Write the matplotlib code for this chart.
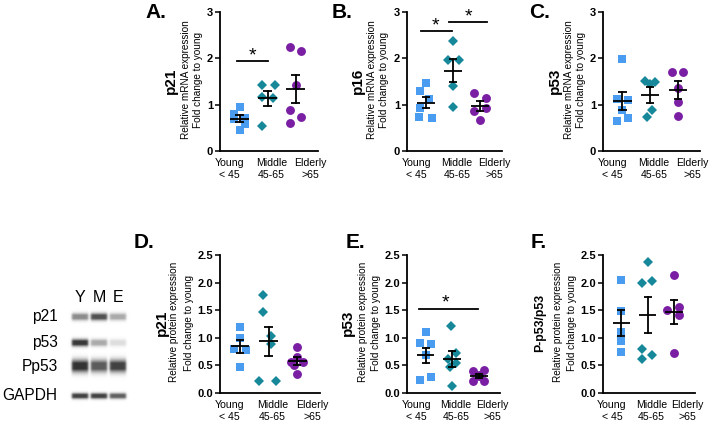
import numpy as np
import matplotlib
matplotlib.use("Agg")
import matplotlib.pyplot as plt

plt.rcParams['font.family'] = ['Liberation Sans', 'DejaVu Sans']

W, H = 711, 426

groups = ["Young\n< 45", "Middle\n45-65", "Elderly\n>65"]
colors = ["#4a9cf0", "#17889a", "#7a1fa3"]
markers = ["s", "D", "o"]

# ---- data ----
a_young = [0.95, 0.80, 0.72, 0.68, 0.58, 0.45]
a_middle = [1.43, 1.43, 1.16, 1.14, 0.55]
a_elderly = [2.24, 2.15, 1.43, 0.89, 0.73, 0.60]

b_young = [1.47, 1.30, 1.12, 0.92, 0.74, 0.72]
b_middle = [2.37, 1.97, 1.97, 1.40, 0.96]
b_elderly = [1.26, 1.14, 0.92, 0.86, 0.66]

c_young = [1.98, 1.12, 1.09, 0.89, 0.72, 0.64]
c_middle = [1.52, 1.45, 1.48, 0.88, 0.73]
c_elderly = [1.71, 1.71, 1.35, 1.06, 0.75]

d_young = [1.19, 0.99, 0.80, 0.78, 0.47]
d_middle = [1.78, 1.47, 1.04, 0.88, 0.22, 0.22]
d_elderly = [0.84, 0.65, 0.57, 0.56, 0.50, 0.34]

e_young = [1.10, 0.90, 0.88, 0.68, 0.29, 0.23]
e_middle = [1.21, 0.72, 0.62, 0.55, 0.48, 0.12]
e_elderly = [0.41, 0.39, 0.33, 0.30, 0.22, 0.21]

f_young = [2.05, 1.48, 1.10, 0.95, 0.75]
f_middle = [2.38, 1.99, 2.03, 0.79, 0.68, 0.61]
f_elderly = [2.14, 1.50, 1.56, 1.41, 0.73]

# horizontal scatter offsets (layout, not data)
a_jit = [[0, -0.2, 0.2, -0.2, 0.2, 0], [-0.2, 0.25, -0.2, 0.2, -0.2], [-0.21, 0.21, 0, -0.21, 0.21, -0.21]]
b_jit = [[0, -0.22, 0.1, -0.22, -0.25, 0.22], [0, -0.2, 0.2, 0, 0], [-0.24, 0.2, 0.2, -0.24, 0]]
c_jit = [[0, -0.2, 0.2, 0, 0.2, -0.2], [-0.2, 0, 0.18, 0.07, -0.12], [-0.21, 0.2, 0, 0, 0]]
d_jit = [[0, 0, -0.2, 0.2, 0], [-0.2, -0.2, 0.1, 0.1, -0.35, 0.25], [0, 0, -0.2, 0.2, -0.1, 0]]
e_jit = [[0, -0.2, 0.2, 0, 0.2, -0.2], [-0.05, 0.15, -0.15, 0.15, -0.1, 0], [0.2, -0.2, 0, 0, -0.2, 0.2]]
f_jit = [[0, 0, 0, 0, 0], [0, -0.2, 0.17, -0.2, 0.17, -0.2], [0, -0.25, 0.2, 0.2, 0]]

# category label positions (Prism spreads labels wider than the data columns)
label_pos = [-0.36, 1.14, 2.52]

# blot band darkness (rows: p21, p53, Pp53, GAPDH ; cols: Y, M, E)
blot_labels = ["p21", "p53", "Pp53", "GAPDH"]
blot_lanes = ["Y", "M", "E"]
blot_dark = [[0.45, 0.68, 0.33],
             [0.78, 0.33, 0.13],
             [0.80, 0.64, 0.74],
             [0.74, 0.74, 0.62]]

mrna = "Relative mRNA expression"
prot = "Relative protein expression"
fold = "Fold change to young"


def fig_axes(L, R, T, B):
    return fig.add_axes([L / W, 1 - B / H, (R - L) / W, (B - T) / H])


def ftext(x, y, s, **kw):
    fig.text(x / W, 1 - y / H, s, **kw)


fig = plt.figure(figsize=(W / 100, H / 100), dpi=100)


def panel(L, R, T, B, series, jits, ymax, yticks, fmt, letter, letter_xy,
          gene, gene_x, gene_size, ylab1, rel_x, fold_x, sigs):
    ax = fig_axes(L, R, T, B)
    for i, (vals, jit) in enumerate(zip(series, jits)):
        v = np.array(vals)
        x = i + np.array(jit)
        ms = 6.4 if markers[i] == "o" else (5.2 if markers[i] == "D" else 5.6)
        ax.plot(x, v, linestyle="none", marker=markers[i], color=colors[i],
                markersize=ms, markeredgewidth=0, zorder=2)
        m = v.mean()
        se = v.std(ddof=1) / np.sqrt(len(v))
        lw = 1.3
        ax.plot([i - 0.33, i + 0.33], [m, m], color="black", lw=lw, zorder=3, solid_capstyle="butt")
        ax.plot([i, i], [m - se, m + se], color="black", lw=lw, zorder=3)
        for yy in (m - se, m + se):
            ax.plot([i - 0.15, i + 0.15], [yy, yy], color="black", lw=lw, zorder=3, solid_capstyle="butt")
    ax.set_xlim(-0.7, 2.8)
    ax.set_ylim(0, ymax)
    ax.set_yticks(yticks)
    ax.set_yticklabels([fmt.format(t) for t in yticks], fontweight="bold", fontsize=8)
    ax.set_xticks(label_pos)
    ax.set_xticklabels(groups, fontsize=7.6, linespacing=1.2)
    ax.tick_params(axis="x", length=0, pad=5)
    ax.tick_params(axis="y", length=3.5, width=1.1, pad=1.5)
    for s in ("top", "right"):
        ax.spines[s].set_visible(False)
    for s in ("left", "bottom"):
        ax.spines[s].set_linewidth(1.3)
    ax.patch.set_alpha(0)
    for (x0, x1, yb, xs, ys) in sigs:
        ax.plot([x0, x1], [yb, yb], color="black", lw=1.3, clip_on=False)
        ax.text(xs, ys, "*", ha="center", va="center", fontsize=14, clip_on=False)
    cy = (T + B) / 2
    ftext(letter_xy[0], letter_xy[1], letter, fontsize=15, fontweight="bold", ha="left", va="center")
    ftext(gene_x, cy - 1, gene, fontsize=gene_size, fontweight="bold", rotation=90, ha="center", va="center")
    ftext(rel_x, cy - 2, ylab1, fontsize=7.2, rotation=90, ha="center", va="center")
    ftext(fold_x, cy - 1, fold, fontsize=7.2, rotation=90, ha="center", va="center")
    return ax


panel(220, 318, 12, 151, [a_young, a_middle, a_elderly], a_jit, 3, [0, 1, 2, 3], "{:.0f}",
      "A.", (145, 13), "p21", 171, 11, mrna, 186, 198,
      [(-0.1, 1.0, 1.94, 0.45, 2.05)])
panel(407, 502, 12, 151, [b_young, b_middle, b_elderly], b_jit, 3, [0, 1, 2, 3], "{:.0f}",
      "B.", (332, 13), "p16", 358, 11, mrna, 372, 384,
      [(-0.2, 0.96, 2.59, 0.36, 2.70), (0.86, 2.25, 2.78, 1.57, 2.89)])
panel(603, 700, 12, 151, [c_young, c_middle, c_elderly], c_jit, 3, [0, 1, 2, 3], "{:.0f}",
      "C.", (529, 13), "p53", 555, 11, mrna, 569, 581, [])
panel(220, 320, 255, 393, [d_young, d_middle, d_elderly], d_jit, 2.5, [0, 0.5, 1.0, 1.5, 2.0, 2.5], "{:.1f}",
      "D.", (134, 242), "p21", 162, 11, prot, 174, 189, [])
panel(407, 500, 255, 393, [e_young, e_middle, e_elderly], e_jit, 2.5, [0, 0.5, 1.0, 1.5, 2.0, 2.5], "{:.1f}",
      "E.", (346, 242), "p53", 348, 11, prot, 363, 376,
      [(-0.25, 1.96, 1.52, 0.75, 1.64)])
panel(603, 695, 255, 393, [f_young, f_middle, f_elderly], f_jit, 2.5, [0, 0.5, 1.0, 1.5, 2.0, 2.5], "{:.1f}",
      "F.", (531, 243), "P-p53/p53", 540, 8.8, prot, 558, 572, [])

# ---- blot image ----
bx = fig_axes(68, 132, 300, 410)
ys = np.linspace(300, 410, 440)
xs = np.linspace(68, 132, 256)
X, Y = np.meshgrid(xs, ys)
band_y = [316.7, 342.7, 366.0, 396.0]
band_h = [2.4, 2.4, 4.2, 1.9]
lane_x = [80, 99, 118]
lane_half = 8.2
img = np.zeros_like(X)
for r in range(4):
    for c in range(3):
        hx = 1 / (1 + np.exp((np.abs(X - lane_x[c]) - lane_half) / 0.6))
        vy = np.exp(-0.5 * ((Y - band_y[r]) / band_h[r]) ** 2)
        vy = np.minimum(vy * 1.25, 1.0)
        img += blot_dark[r][c] * hx * vy
img = 1 - np.clip(img, 0, 1)
bx.imshow(img, cmap="gray", vmin=0, vmax=1, extent=[68, 132, 410, 300], aspect="auto",
          interpolation="bilinear")
bx.set_xlim(68, 132)
bx.set_ylim(410, 300)
bx.axis("off")

for lab, x in zip(blot_lanes, lane_x):
    ftext(x, 298, lab, fontsize=11.5, ha="center", va="center")
for lab, y in zip(blot_labels, band_y):
    ftext(57.5, y, lab, fontsize=11.2, ha="right", va="center")

fig.savefig("out.png", dpi=100)
